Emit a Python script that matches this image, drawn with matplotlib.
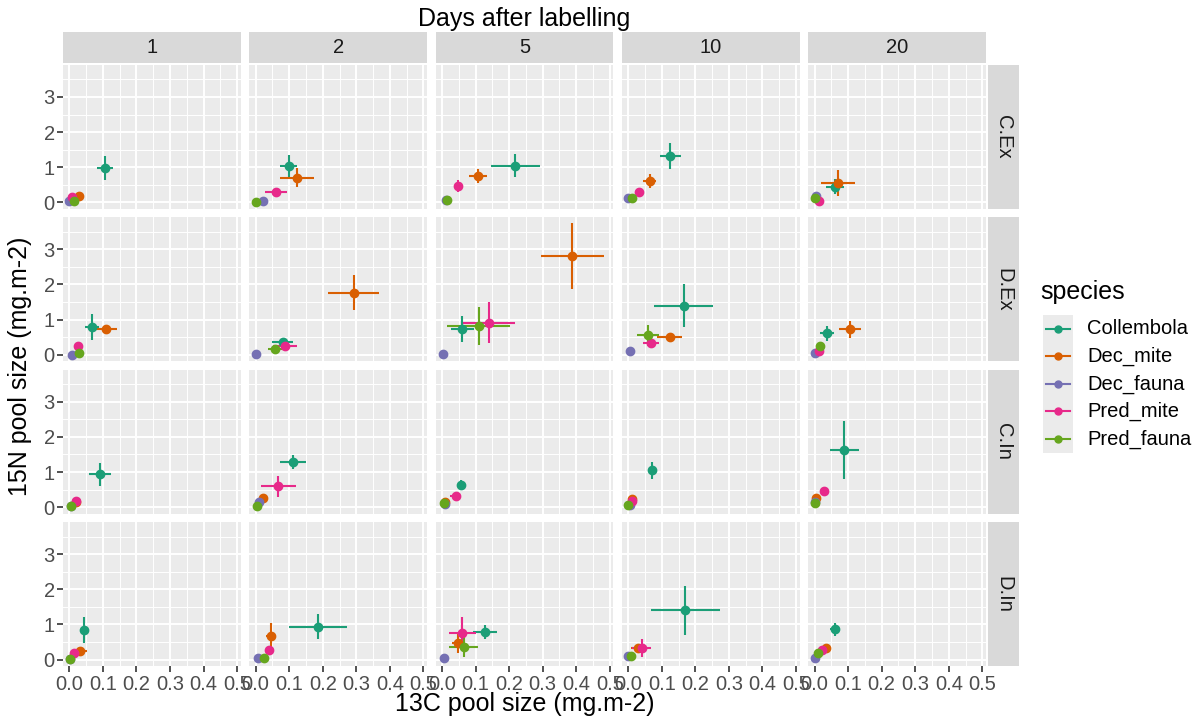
import matplotlib
matplotlib.use("Agg")
import matplotlib.pyplot as plt
from matplotlib.patches import Rectangle
import numpy as np

plt.rcParams["font.family"] = ["Liberation Sans", "DejaVu Sans"]

# ---------------------------------------------------------
# Datos (orden: C.Ex, D.Ex, C.In, D.In ; dias 1, 2, 5, 10, 20)
# ---------------------------------------------------------
treatments = ["C.Ex", "D.Ex", "C.In", "D.In"]
days = ["1", "2", "5", "10", "20"]
species = ["Collembola", "Dec_mite", "Dec_fauna", "Pred_mite", "Pred_fauna"]
colors = ["#1B9E77", "#D95F02", "#7570B3", "#E7298A", "#66A61E"]

collembola_x = [0.107, 0.098, 0.219, 0.125, 0.060,
                0.067, 0.081, 0.061, 0.165, 0.036,
                0.092, 0.112, 0.057, 0.070, 0.088,
                0.045, 0.185, 0.129, 0.170, 0.062]
collembola_y = [0.98, 1.03, 1.04, 1.33, 0.45,
                0.80, 0.35, 0.73, 1.40, 0.61,
                0.93, 1.28, 0.62, 1.05, 1.62,
                0.83, 0.94, 0.78, 1.40, 0.86]
collembola_xerr = [0.024, 0.024, 0.073, 0.031, 0.027,
                   0.021, 0.031, 0.035, 0.088, 0.021,
                   0.033, 0.038, 0.010, 0.006, 0.043,
                   0.008, 0.086, 0.036, 0.103, 0.015]
collembola_yerr = [0.35, 0.31, 0.33, 0.37, 0.22,
                   0.37, 0.05, 0.37, 0.60, 0.22,
                   0.32, 0.20, 0.14, 0.24, 0.82,
                   0.37, 0.36, 0.19, 0.70, 0.19]

dec_mite_x = [0.029, 0.123, 0.107, 0.064, 0.070,
              0.110, 0.292, 0.389, 0.123, 0.106,
              0.020, 0.022, 0.010, 0.010, 0.005,
              0.032, 0.045, 0.049, 0.029, 0.033]
dec_mite_y = [0.19, 0.70, 0.76, 0.60, 0.55,
              0.73, 1.77, 2.81, 0.51, 0.73,
              0.15, 0.26, 0.14, 0.24, 0.27,
              0.25, 0.68, 0.48, 0.33, 0.33]
dec_mite_xerr = [0.008, 0.050, 0.027, 0.020, 0.050,
                 0.031, 0.076, 0.093, 0.036, 0.032,
                 0.005, 0.006, 0.005, 0.005, 0.005,
                 0.020, 0.015, 0.020, 0.020, 0.008]
dec_mite_yerr = [0.05, 0.27, 0.20, 0.20, 0.37,
                 0.07, 0.51, 0.93, 0.05, 0.24,
                 0.03, 0.04, 0.03, 0.05, 0.05,
                 0.04, 0.35, 0.30, 0.06, 0.05]

dec_fauna_x = [0.000, 0.023, 0.013, 0.000, 0.003,
               0.007, 0.002, 0.004, 0.006, 0.000,
               0.005, 0.010, 0.008, 0.005, 0.001,
               0.002, 0.007, 0.007, 0.000, 0.000]
dec_fauna_y = [0.05, 0.05, 0.06, 0.11, 0.17,
               0.00, 0.02, 0.02, 0.10, 0.05,
               0.03, 0.14, 0.10, 0.05, 0.14,
               0.02, 0.04, 0.05, 0.10, 0.04]
dec_fauna_xerr = [0.003] * 20
dec_fauna_yerr = [0.02] * 20

pred_mite_x = [0.007, 0.060, 0.049, 0.032, 0.012,
               0.027, 0.087, 0.140, 0.069, 0.012,
               0.020, 0.068, 0.041, 0.011, 0.027,
               0.014, 0.040, 0.061, 0.040, 0.022]
pred_mite_y = [0.16, 0.29, 0.46, 0.28, 0.05,
               0.26, 0.25, 0.91, 0.34, 0.11,
               0.17, 0.59, 0.33, 0.17, 0.46,
               0.19, 0.27, 0.75, 0.33, 0.26]
pred_mite_xerr = [0.004, 0.033, 0.007, 0.006, 0.004,
                  0.005, 0.035, 0.077, 0.024, 0.005,
                  0.005, 0.051, 0.017, 0.005, 0.006,
                  0.005, 0.006, 0.039, 0.028, 0.006]
pred_mite_yerr = [0.04, 0.05, 0.17, 0.05, 0.03,
                  0.05, 0.04, 0.59, 0.07, 0.04,
                  0.04, 0.29, 0.05, 0.04, 0.07,
                  0.04, 0.05, 0.47, 0.25, 0.05]

pred_fauna_x = [0.015, 0.002, 0.015, 0.010, 0.000,
                0.030, 0.058, 0.109, 0.059, 0.016,
                0.005, 0.003, 0.006, 0.000, 0.000,
                0.002, 0.025, 0.065, 0.008, 0.010]
pred_fauna_y = [0.05, 0.00, 0.07, 0.11, 0.11,
                0.05, 0.16, 0.82, 0.56, 0.26,
                0.02, 0.03, 0.11, 0.07, 0.11,
                0.02, 0.05, 0.35, 0.11, 0.18]
pred_fauna_xerr = [0.004, 0.003, 0.004, 0.004, 0.004,
                   0.005, 0.022, 0.093, 0.033, 0.005,
                   0.003, 0.003, 0.004, 0.003, 0.003,
                   0.003, 0.005, 0.043, 0.004, 0.004]
pred_fauna_yerr = [0.03, 0.03, 0.03, 0.03, 0.03,
                   0.03, 0.04, 0.55, 0.30, 0.08,
                   0.03, 0.03, 0.03, 0.03, 0.03,
                   0.03, 0.03, 0.29, 0.03, 0.04]

series = [
    (collembola_x, collembola_y, collembola_xerr, collembola_yerr),
    (dec_mite_x, dec_mite_y, dec_mite_xerr, dec_mite_yerr),
    (dec_fauna_x, dec_fauna_y, dec_fauna_xerr, dec_fauna_yerr),
    (pred_mite_x, pred_mite_y, pred_mite_xerr, pred_mite_yerr),
    (pred_fauna_x, pred_fauna_y, pred_fauna_xerr, pred_fauna_yerr),
]

# ---------------------------------------------------------
# Layout (pixeles)
# ---------------------------------------------------------
W, H = 1201, 724
fig = plt.figure(figsize=(W / 100, H / 100), dpi=100)
fig.patch.set_facecolor("white")

def px_axes(x0, y0, w, h):
    return fig.add_axes([x0 / W, 1 - (y0 + h) / H, w / W, h / H])

col_left = [63 + c * 186.3 for c in range(5)]
row_top = [65 + r * 152.4 for r in range(4)]
pw, ph = 177.8, 144

panel_bg = "#EBEBEB"
strip_bg = "#D9D9D9"
tick_col = "#4D4D4D"

for r, trt in enumerate(treatments):
    for c, day in enumerate(days):
        ax = px_axes(col_left[c], row_top[r], pw, ph)
        ax.set_facecolor(panel_bg)
        for s in ax.spines.values():
            s.set_visible(False)
        ax.set_xlim(-0.019, 0.511)
        ax.set_ylim(-0.19, 3.91)
        ax.set_xticks(np.arange(0, 0.51, 0.1))
        ax.set_xticks(np.arange(0.05, 0.51, 0.1), minor=True)
        ax.set_yticks([0, 1, 2, 3])
        ax.set_yticks([0.5, 1.5, 2.5, 3.5], minor=True)
        ax.grid(True, which="major", color="white", linewidth=1.4)
        ax.grid(True, which="minor", color="white", linewidth=0.7)
        ax.set_axisbelow(True)
        ax.tick_params(which="minor", length=0)
        ax.tick_params(which="major", length=4, width=1.2, color="#333333",
                       labelsize=14.5, labelcolor=tick_col, pad=2)
        ax.set_xticklabels(["0.0", "0.1", "0.2", "0.3", "0.4", "0.5"])
        if c != 0:
            ax.tick_params(axis="y", left=False, labelleft=False)
        if r != 3:
            ax.tick_params(axis="x", bottom=False, labelbottom=False)

        i = r * 5 + c
        for (sx, sy, sxe, sye), col in zip(series, colors):
            ax.errorbar(sx[i], sy[i], xerr=sxe[i], yerr=sye[i], fmt="o",
                        color=col, ms=6, elinewidth=1.5, capsize=0)

        if r == 0:
            st = px_axes(col_left[c], 32, pw, 31)
            st.set_facecolor(strip_bg)
            st.set_xticks([]); st.set_yticks([])
            for s in st.spines.values():
                s.set_visible(False)
            st.text(0.5, 0.5, day, ha="center", va="center", fontsize=14.5,
                    color="#1A1A1A", transform=st.transAxes)
        if c == 4:
            st = px_axes(988, row_top[r], 31, ph)
            st.set_facecolor(strip_bg)
            st.set_xticks([]); st.set_yticks([])
            for s in st.spines.values():
                s.set_visible(False)
            st.text(0.5, 0.5, trt, ha="center", va="center", fontsize=14.5,
                    color="#1A1A1A", rotation=-90, transform=st.transAxes)

# ---------------------------------------------------------
# Titulos
# ---------------------------------------------------------
cx = (col_left[0] + col_left[4] + pw) / 2 / W
fig.text(cx, 1 - 19 / H, "Days after labelling", ha="center", va="center",
         fontsize=18, color="black")
fig.text(cx, 1 - 704 / H, "13C pool size (mg.m-2)", ha="center", va="center",
         fontsize=18, color="black")
fig.text(20 / W, 1 - 366 / H, "15N pool size (mg.m-2)", ha="center", va="center",
         fontsize=18, rotation=90, color="black")

# ---------------------------------------------------------
# Leyenda
# ---------------------------------------------------------
lg = px_axes(1025, 270, 176, 200)
lg.set_xlim(1025, 1201)
lg.set_ylim(470, 270)
lg.axis("off")
lg.text(1040, 292, "species", ha="left", va="center", fontsize=18)
lg.add_patch(Rectangle((1043, 315), 30, 138, facecolor="#EBEBEB", edgecolor="none"))
for k, (name, col) in enumerate(zip(species, colors)):
    yk = 329 + k * 27.5
    lg.plot([1046, 1070], [yk, yk], color=col, lw=1.5)
    lg.plot([1058], [yk], "o", color=col, ms=5)
    lg.text(1087, yk, name, ha="left", va="center", fontsize=14.5)

fig.savefig("out.png", dpi=100)
